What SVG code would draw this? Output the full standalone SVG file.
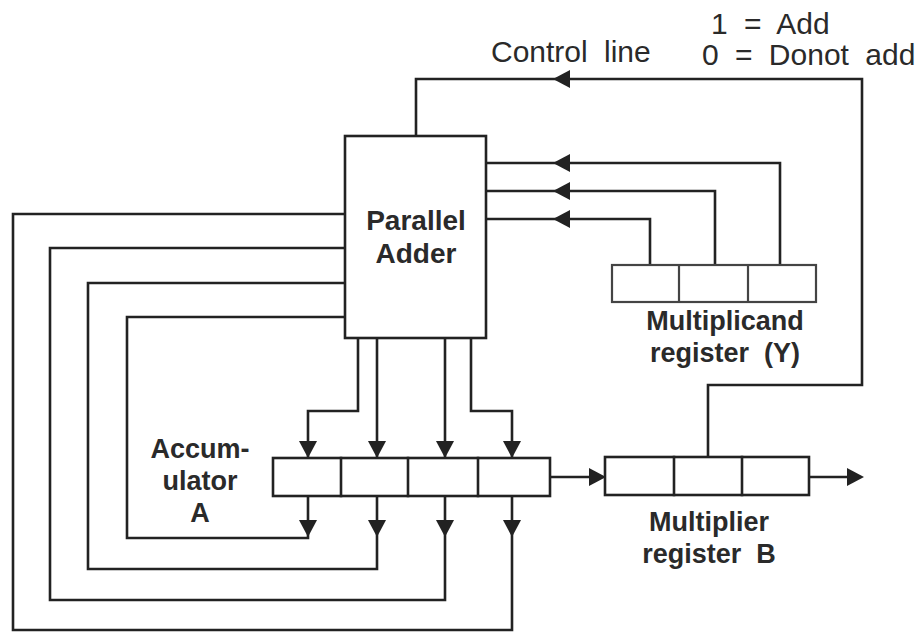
<svg xmlns="http://www.w3.org/2000/svg" xmlns:xlink="http://www.w3.org/1999/xlink" width="923" height="633" viewBox="0 0 923 633">
<style>
.ln{fill:none;stroke:#222;stroke-width:2.6;stroke-linejoin:miter;stroke-linecap:square}
.box{fill:#fff;stroke:#222;stroke-width:2.6}
.reg{fill:#fff;stroke:#444;stroke-width:2.2}
.lbl{font-family:"Liberation Sans",Arial,sans-serif;font-weight:bold;font-size:27px;fill:#2a2a2a;text-anchor:middle}
.note{font-family:"Liberation Sans",Arial,sans-serif;font-size:30px;fill:#2a2a2a;word-spacing:8px}
.ah{fill:#222}
</style>
<defs>
<path id="ah" d="M0,0 L-17,-9 L-17,9 Z"/>
</defs>
<rect width="923" height="633" fill="#fff"/>
<g id="connectors">
<path class="ln" d="M708,457 V385 H862 V79 H416 V136"/>
<path class="ln" d="M780,265 V163 H486"/>
<path class="ln" d="M715,265 V191 H486"/>
<path class="ln" d="M650,265 V219 H486"/>
<path class="ln" d="M358,338 V411 H308 V458"/>
<path class="ln" d="M377,338 V458"/>
<path class="ln" d="M445,338 V458"/>
<path class="ln" d="M471,338 V411 H512 V458"/>
<path class="ln" d="M308,496 V538 H127 V317 H345"/>
<path class="ln" d="M377,496 V569 H88 V283 H345"/>
<path class="ln" d="M445,496 V600 H50 V248 H345"/>
<path class="ln" d="M512,496 V630 H13 V214 H345"/>
<path class="ln" d="M550,477 H600"/>
<path class="ln" d="M809,477 H858"/>
<g class="ah">
<use xlink:href="#ah" transform="translate(553,79) rotate(180)"/>
<use xlink:href="#ah" transform="translate(553,163) rotate(180)"/>
<use xlink:href="#ah" transform="translate(553,191) rotate(180)"/>
<use xlink:href="#ah" transform="translate(553,219) rotate(180)"/>
<use xlink:href="#ah" transform="translate(308,458) rotate(90)"/>
<use xlink:href="#ah" transform="translate(377,458) rotate(90)"/>
<use xlink:href="#ah" transform="translate(445,458) rotate(90)"/>
<use xlink:href="#ah" transform="translate(512,458) rotate(90)"/>
<use xlink:href="#ah" transform="translate(308,537) rotate(90)"/>
<use xlink:href="#ah" transform="translate(377,537) rotate(90)"/>
<use xlink:href="#ah" transform="translate(445,537) rotate(90)"/>
<use xlink:href="#ah" transform="translate(512,537) rotate(90)"/>
<use xlink:href="#ah" transform="translate(606,477)"/>
<use xlink:href="#ah" transform="translate(864,477)"/>
</g>
</g>
<g id="adder">
<rect class="box" x="345" y="136" width="141" height="202"/>
<text class="lbl" x="416" y="230" style="font-size:28px">Parallel</text>
<text class="lbl" x="416" y="263" style="font-size:28px">Adder</text>
</g>
<g id="multiplicand">
<rect class="reg" x="612" y="265" width="204" height="37"/>
<path class="ln" style="stroke:#444;stroke-width:2.2" d="M679,265 V302 M748,265 V302"/>
<text class="lbl" x="725" y="330">Multiplicand</text>
<text class="lbl" x="725" y="362" xml:space="preserve">register  (Y)</text>
</g>
<g id="accumulator">
<rect class="box" x="273" y="458" width="277" height="38"/>
<path class="ln" d="M341,458 V496 M408,458 V496 M478,458 V496"/>
<text class="lbl" x="200" y="458">Accum-</text>
<text class="lbl" x="200" y="490">ulator</text>
<text class="lbl" x="200" y="522">A</text>
</g>
<g id="multiplier">
<rect class="box" x="605" y="457" width="204" height="38"/>
<path class="ln" d="M674,457 V495 M742,457 V495"/>
<text class="lbl" x="709" y="531">Multiplier</text>
<text class="lbl" x="709" y="563" xml:space="preserve">register  B</text>
</g>
<g id="labels">
<text class="note" x="491" y="62">Control line</text>
<text class="note" x="711" y="34">1 = Add</text>
<text class="note" x="702" y="65">0 = Donot add</text>
</g>
</svg>
